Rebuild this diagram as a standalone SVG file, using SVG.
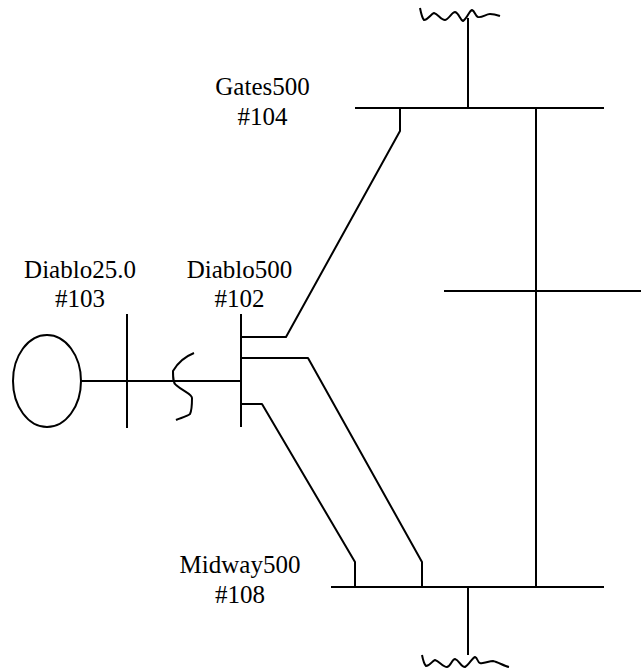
<svg xmlns="http://www.w3.org/2000/svg" width="641" height="672" viewBox="0 0 641 672">
<style>
.l{fill:none;stroke:#000;stroke-width:2;stroke-linejoin:round}
.t{font-family:"Liberation Serif","Times New Roman",serif;font-size:25px;fill:#000;text-anchor:middle}
</style>
<rect width="641" height="672" fill="#fff"/>
<g id="connectors">
<path class="l" d="M468 18V108"/>
<path class="l" d="M400 108V131L286 337H241"/>
<path class="l" d="M241 358H308L422 562V587"/>
<path class="l" d="M241 404H262L355 562V587"/>
<path class="l" d="M536 108V587"/>
<path class="l" d="M468 587V655"/>
<path class="l" d="M80 381H241"/>
<path class="l" d="M194 353C184 357 177 364 173 371C173 378 173 383 176 385C184 392 192 394 192 398C192 406 191 412 190 414C186 417 180 418 176 420"/>
</g>
<g id="bus-gates"><path class="l" d="M355 108H604"/><text class="t" x="262.500" y="95">Gates500</text><text class="t" x="262.500" y="125">#104</text></g>
<g id="bus-mid"><path class="l" d="M444 291H641"/></g>
<g id="bus-midway"><path class="l" d="M331 587H604"/><text class="t" x="240" y="573">Midway500</text><text class="t" x="240" y="603">#108</text></g>
<g id="bus-diablo500"><path class="l" d="M241 314V427"/><text class="t" x="239.500" y="278">Diablo500</text><text class="t" x="239.500" y="307">#102</text></g>
<g id="bus-diablo25"><path class="l" d="M127 314V428"/><text class="t" x="80" y="278">Diablo25.0</text><text class="t" x="80" y="307">#103</text></g>
<g id="generator"><ellipse class="l" cx="47" cy="381" rx="34" ry="46"/></g>
<g id="load-top"><path class="l" d="M420 8C421 13 422 18 424 20C428 20 431 14 434 13C438 14 441 20 445 20C449 19 452 12 455 12C459 13 460 20 463 21C467 19 469 11 472 10C475 11 475 16 478 17C482 18 486 14 490 14C494 14 497 15 500 16"/></g>
<g id="load-bottom"><path class="l" d="M422 655C423 660 424 664 426 666C430 666 432 661 435 660C439 661 443 667 447 667C451 666 452 659 455 659C459 660 461 667 465 667C469 665 472 658 475 657C478 658 477 662 480 663C484 664 489 661 493 661C498 662 504 666 509 667"/></g>
</svg>
